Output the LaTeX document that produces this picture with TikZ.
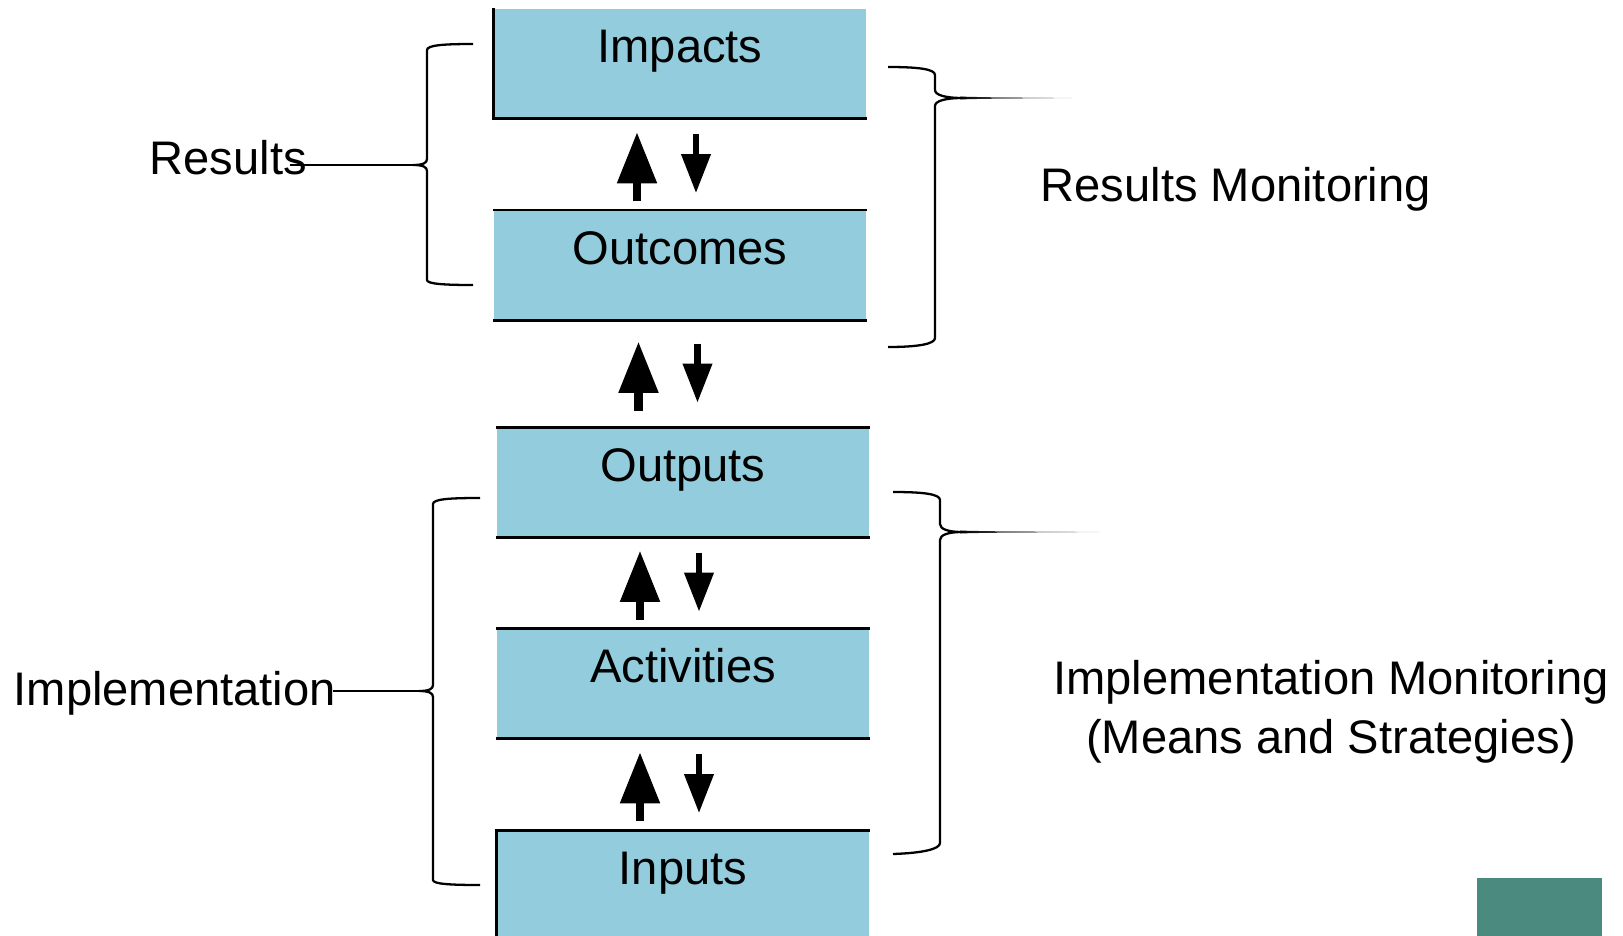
\documentclass[tikz,border=0pt]{standalone}
\usepackage{fontspec}
\setmainfont{Liberation Sans}
\usetikzlibrary{arrows.meta,calc}

\definecolor{stagefill}{HTML}{93CDDD}
\definecolor{cornerteal}{HTML}{4B8A7F}

\tikzset{
  stage/.style={rectangle, fill=stagefill, inner sep=0pt, minimum width=3.72cm,
    text height=0.54cm, text depth=0.55cm, anchor=north},
  edge/.style={line width=0.85pt},
  bracket/.style={line width=0.65pt},
  uparrow/.style={line width=2.3pt, -{Triangle[length=0.51cm,width=0.38cm]}},
  downarrow/.style={line width=1.9pt, -{Triangle[length=0.39cm,width=0.28cm]}},
  caption/.style={inner sep=0pt},
}

\begin{document}
\begin{tikzpicture}[x=0.01cm, y=-0.01cm, font=\fontsize{13.4}{16.5}\selectfont]
\useasboundingbox (0,0) rectangle (1623,936);
\clip (0,0) rectangle (1623,936);

% The five stages, top to bottom
\node[stage] (impacts) at (680,8) {Impacts};
\node[stage] (outcomes) at (680,210) {Outcomes};
\node[stage] (outputs) at (683,427) {Outputs};
\node[stage] (activities) at (683,628) {Activities};
\node[stage] (inputs) at (683,830) {Inputs};

% Rules along the stage boxes
\draw[edge] (impacts.north west) -- (impacts.south west) -- (impacts.south east);
\foreach \s in {outcomes,outputs,activities}{
  \draw[edge] (\s.north west) -- (\s.north east);
  \draw[edge] (\s.south west) -- (\s.south east);
}
\draw[edge] (inputs.south west) -- (inputs.north west) -- (inputs.north east);

% Up and down arrows in each gap
\foreach \hi/\lo in {impacts/outcomes, outcomes/outputs, outputs/activities, activities/inputs}{
  \coordinate (gap) at ($(\hi.south)!0.5!(\lo.north)$);
  \draw[uparrow] ($(gap)+(-43,37)$) -- ($(gap)+(-43,-32)$);
  \draw[downarrow] ($(gap)+(16,-30)$) -- ($(gap)+(16,29)$);
}

% Left side labels and brackets
\node[caption, anchor=base west] (results) at (149,174) {Results};
\node[caption, anchor=base west] (implementation) at (13,705) {Implementation};

\coordinate (restip) at (413,165);
\draw[bracket] (473,44) .. controls (445,44) and (427,45) .. (427,50) -- (427,159)
  .. controls (427,163) and (423,165) .. (restip)
  .. controls (423,165) and (427,167) .. (427,171) -- (427,280)
  .. controls (427,284) and (445,285) .. (473,285);
\draw[bracket] (restip) -- ([xshift=-5pt]restip -| results.east);

\coordinate (imptip) at (419,691);
\draw[bracket] (480,498) .. controls (450,498) and (433,499) .. (433,504) -- (433,685)
  .. controls (433,689) and (429,691) .. (imptip)
  .. controls (429,691) and (433,693) .. (433,697) -- (433,880)
  .. controls (433,884) and (450,885) .. (480,885);
\draw[bracket] (imptip) -- ([xshift=-1pt]imptip -| implementation.east);

% Right side braces
\draw[bracket] (888,67) .. controls (918,67) and (935,69) .. (935,75) -- (935,90)
  .. controls (935,95) and (945,98) .. (963,98)
  .. controls (945,98) and (935,101) .. (935,106) -- (935,338)
  .. controls (935,344) and (918,347) .. (888,347);
\shade[left color=black, right color=black!25]
  (960,96.6) -- (985,97.2) -- (1072,97.9) -- (1072,98.1) -- (985,98.8) -- (960,99.4) -- cycle;

\draw[bracket] (893,492) .. controls (923,492) and (940,494) .. (940,500) -- (940,524)
  .. controls (940,529) and (948,532) .. (962,532)
  .. controls (948,532) and (940,535) .. (940,540) -- (940,843)
  .. controls (940,849) and (923,853) .. (893,854);
\shade[left color=black, right color=black!25]
  (960,530.6) -- (988,531.2) -- (1100,531.9) -- (1100,532.1) -- (988,532.8) -- (960,533.4) -- cycle;

% Monitoring labels
\node[caption, anchor=base west] (resmon) at (1040,201) {Results Monitoring};
\node[caption, anchor=base, align=center] (impmon) at (1331,753)
  {Implementation Monitoring\\(Means and Strategies)};

% Corner block
\fill[cornerteal] (1477,878) rectangle (1602,936);

\end{tikzpicture}
\end{document}
